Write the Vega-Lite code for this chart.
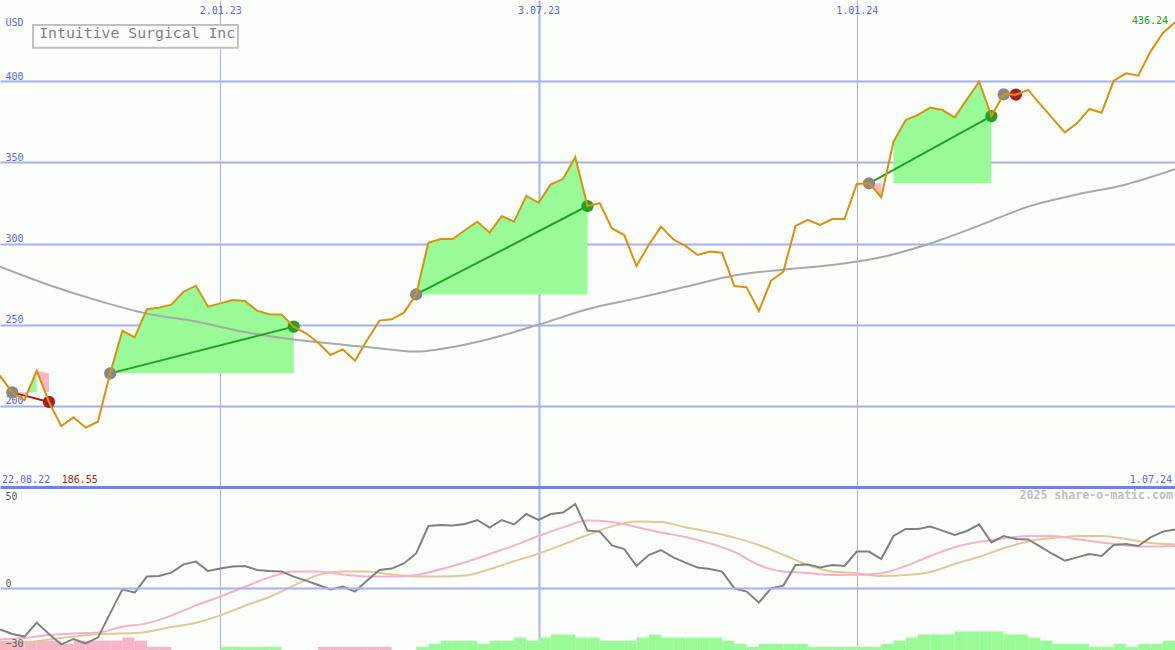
{
  "$schema": "https://vega.github.io/schema/vega-lite/v6.json",
  "background": "#fcfefc",
  "padding": 0,
  "autosize": {"type": "none"},
  "width": 1175,
  "height": 650,
  "config": {
    "view": {"stroke": null},
    "axis": {"labelFont": "DejaVu Sans Mono", "titleFont": "DejaVu Sans Mono"},
    "text": {"font": "DejaVu Sans Mono"}
  },
  "datasets": {
    "w": [
      {"d":"2022-08-22","p":226},{"d":"2022-08-29","p":218.4},{"d":"2022-09-05","p":208.3},{"d":"2022-09-12","p":203.6},{"d":"2022-09-19","p":221.6},{"d":"2022-09-26","p":202.4},{"d":"2022-10-03","p":187.6},{"d":"2022-10-10","p":192.9},{"d":"2022-10-17","p":186.55},{"d":"2022-10-24","p":190.2},{"d":"2022-10-31","p":220.0},{"d":"2022-11-07","p":246.3},{"d":"2022-11-14","p":242.2},{"d":"2022-11-21","p":259.5},{"d":"2022-11-28","p":260.5},{"d":"2022-12-05","p":262.3},{"d":"2022-12-12","p":270.3},{"d":"2022-12-19","p":274.0},{"d":"2022-12-26","p":261.1},{"d":"2023-01-02","p":263.1},{"d":"2023-01-09","p":265.2},{"d":"2023-01-16","p":264.6},{"d":"2023-01-23","p":258.6},{"d":"2023-01-30","p":256.4},{"d":"2023-02-06","p":256.2},{"d":"2023-02-13","p":248.8},{"d":"2023-02-20","p":244.7},{"d":"2023-02-27","p":238.9},{"d":"2023-03-06","p":231.3},{"d":"2023-03-13","p":234.8},{"d":"2023-03-20","p":227.8},{"d":"2023-03-27","p":240.6},{"d":"2023-04-03","p":252.5},{"d":"2023-04-10","p":253.3},{"d":"2023-04-17","p":257.4},{"d":"2023-04-24","p":268.6},{"d":"2023-05-01","p":300.5},{"d":"2023-05-08","p":302.8},{"d":"2023-05-15","p":302.8},{"d":"2023-05-22","p":308.3},{"d":"2023-05-29","p":313.4},{"d":"2023-06-05","p":306.7},{"d":"2023-06-12","p":316.9},{"d":"2023-06-19","p":313.4},{"d":"2023-06-26","p":329.3},{"d":"2023-07-03","p":325.1},{"d":"2023-07-10","p":336.4},{"d":"2023-07-17","p":339.7},{"d":"2023-07-24","p":353.1},{"d":"2023-07-31","p":323.1},{"d":"2023-08-07","p":324.8},{"d":"2023-08-14","p":309.3},{"d":"2023-08-21","p":305.2},{"d":"2023-08-28","p":286.1},{"d":"2023-09-04","p":299.1},{"d":"2023-09-11","p":310.4},{"d":"2023-09-18","p":302.6},{"d":"2023-09-25","p":298.5},{"d":"2023-10-02","p":292.9},{"d":"2023-10-09","p":295.0},{"d":"2023-10-16","p":294.3},{"d":"2023-10-23","p":273.8},{"d":"2023-10-30","p":273.0},{"d":"2023-11-06","p":258.4},{"d":"2023-11-13","p":277.1},{"d":"2023-11-20","p":282.6},{"d":"2023-11-27","p":310.8},{"d":"2023-12-04","p":314.5},{"d":"2023-12-11","p":311.4},{"d":"2023-12-18","p":315.1},{"d":"2023-12-25","p":315.1},{"d":"2024-01-01","p":336.7},{"d":"2024-01-08","p":337.1},{"d":"2024-01-15","p":328.5},{"d":"2024-01-22","p":362.7},{"d":"2024-01-29","p":376.1},{"d":"2024-02-05","p":379.2},{"d":"2024-02-12","p":383.7},{"d":"2024-02-19","p":382.2},{"d":"2024-02-26","p":377.7},{"d":"2024-03-04","p":388.8},{"d":"2024-03-11","p":399.7},{"d":"2024-03-18","p":378.5},{"d":"2024-03-25","p":391.9},{"d":"2024-04-01","p":391.7},{"d":"2024-04-08","p":394.6},{"d":"2024-04-15","p":385.7},{"d":"2024-04-22","p":377.1},{"d":"2024-04-29","p":368.5},{"d":"2024-05-06","p":374.0},{"d":"2024-05-13","p":382.9},{"d":"2024-05-20","p":380.6},{"d":"2024-05-27","p":400.3},{"d":"2024-06-03","p":404.8},{"d":"2024-06-10","p":403.4},{"d":"2024-06-17","p":418.2},{"d":"2024-06-24","p":429.5},{"d":"2024-07-01","p":436.24}
    ],
    "ma": [
      {"d":"2022-08-29","p":285.7},{"d":"2022-09-26","p":274.4},{"d":"2022-10-24","p":264.8},{"d":"2022-11-21","p":256.8},{"d":"2022-12-19","p":252.0},{"d":"2023-01-16","p":245.5},{"d":"2023-02-13","p":240.8},{"d":"2023-03-13","p":237.7},{"d":"2023-04-10","p":234.6},{"d":"2023-04-24","p":233.4},{"d":"2023-05-08","p":235.0},{"d":"2023-06-05","p":241.2},{"d":"2023-07-03","p":250.0},{"d":"2023-07-31","p":259.5},{"d":"2023-08-28","p":266.2},{"d":"2023-09-25","p":273.3},{"d":"2023-10-23","p":280.3},{"d":"2023-11-20","p":283.9},{"d":"2023-12-18","p":286.8},{"d":"2024-01-15","p":291.5},{"d":"2024-02-12","p":300.0},{"d":"2024-03-11","p":311.0},{"d":"2024-04-08","p":322.7},{"d":"2024-05-06","p":330.2},{"d":"2024-06-03","p":336.4},{"d":"2024-07-01","p":345.7}
    ],
    "fills": [
      {"seg":"t1a","k":"g","d":"2022-09-13T20:00:00Z","p":208.3,"p2":208.3},{"seg":"t1a","k":"g","d":"2022-09-19","p":221.6,"p2":208.3},
      {"seg":"t1b","k":"r","d":"2022-09-19","p":221.6,"p2":221.6},{"seg":"t1b","k":"r","d":"2022-09-23T20:00:00Z","p":220.6,"p2":208.3},{"seg":"t1b","k":"r","d":"2022-09-26","p":220.0,"p2":208.3},
      {"seg":"t1c","k":"r","d":"2022-09-05","p":208.3,"p2":207.3},{"seg":"t1c","k":"r","d":"2022-09-13T20:00:00Z","p":208.3,"p2":207.3},
      {"seg":"t2","k":"g","d":"2022-10-31","p":220.0,"p2":220.0},{"seg":"t2","k":"g","d":"2022-11-07","p":246.3,"p2":220.0},{"seg":"t2","k":"g","d":"2022-11-14","p":242.2,"p2":220.0},{"seg":"t2","k":"g","d":"2022-11-21","p":259.5,"p2":220.0},{"seg":"t2","k":"g","d":"2022-11-28","p":260.5,"p2":220.0},{"seg":"t2","k":"g","d":"2022-12-05","p":262.3,"p2":220.0},{"seg":"t2","k":"g","d":"2022-12-12","p":270.3,"p2":220.0},{"seg":"t2","k":"g","d":"2022-12-19","p":274.0,"p2":220.0},{"seg":"t2","k":"g","d":"2022-12-26","p":261.1,"p2":220.0},{"seg":"t2","k":"g","d":"2023-01-02","p":263.1,"p2":220.0},{"seg":"t2","k":"g","d":"2023-01-09","p":265.2,"p2":220.0},{"seg":"t2","k":"g","d":"2023-01-16","p":264.6,"p2":220.0},{"seg":"t2","k":"g","d":"2023-01-23","p":258.6,"p2":220.0},{"seg":"t2","k":"g","d":"2023-01-30","p":256.4,"p2":220.0},{"seg":"t2","k":"g","d":"2023-02-06","p":256.2,"p2":220.0},{"seg":"t2","k":"g","d":"2023-02-13","p":248.8,"p2":220.0},
      {"seg":"t3","k":"g","d":"2023-04-24","p":268.6,"p2":268.6},{"seg":"t3","k":"g","d":"2023-05-01","p":300.5,"p2":268.6},{"seg":"t3","k":"g","d":"2023-05-08","p":302.8,"p2":268.6},{"seg":"t3","k":"g","d":"2023-05-15","p":302.8,"p2":268.6},{"seg":"t3","k":"g","d":"2023-05-22","p":308.3,"p2":268.6},{"seg":"t3","k":"g","d":"2023-05-29","p":313.4,"p2":268.6},{"seg":"t3","k":"g","d":"2023-06-05","p":306.7,"p2":268.6},{"seg":"t3","k":"g","d":"2023-06-12","p":316.9,"p2":268.6},{"seg":"t3","k":"g","d":"2023-06-19","p":313.4,"p2":268.6},{"seg":"t3","k":"g","d":"2023-06-26","p":329.3,"p2":268.6},{"seg":"t3","k":"g","d":"2023-07-03","p":325.1,"p2":268.6},{"seg":"t3","k":"g","d":"2023-07-10","p":336.4,"p2":268.6},{"seg":"t3","k":"g","d":"2023-07-17","p":339.7,"p2":268.6},{"seg":"t3","k":"g","d":"2023-07-24","p":353.1,"p2":268.6},{"seg":"t3","k":"g","d":"2023-07-31","p":323.1,"p2":268.6},
      {"seg":"t4a","k":"r","d":"2024-01-08","p":337.1,"p2":337.1},{"seg":"t4a","k":"r","d":"2024-01-15","p":337.1,"p2":328.5},
      {"seg":"t4b","k":"g","d":"2024-01-22","p":362.7,"p2":337.1},{"seg":"t4b","k":"g","d":"2024-01-29","p":376.1,"p2":337.1},{"seg":"t4b","k":"g","d":"2024-02-05","p":379.2,"p2":337.1},{"seg":"t4b","k":"g","d":"2024-02-12","p":383.7,"p2":337.1},{"seg":"t4b","k":"g","d":"2024-02-19","p":382.2,"p2":337.1},{"seg":"t4b","k":"g","d":"2024-02-26","p":377.7,"p2":337.1},{"seg":"t4b","k":"g","d":"2024-03-04","p":388.8,"p2":337.1},{"seg":"t4b","k":"g","d":"2024-03-11","p":399.7,"p2":337.1},{"seg":"t4b","k":"g","d":"2024-03-18","p":378.5,"p2":337.1}
    ],
    "trades": [
      {"t":"t1","r":"loss","d":"2022-09-05","p":208.3},{"t":"t1","r":"loss","d":"2022-09-26","p":202.4},
      {"t":"t2","r":"win","d":"2022-10-31","p":220.0},{"t":"t2","r":"win","d":"2023-02-13","p":248.8},
      {"t":"t3","r":"win","d":"2023-04-24","p":268.6},{"t":"t3","r":"win","d":"2023-07-31","p":323.1},
      {"t":"t4","r":"win","d":"2024-01-08","p":337.1},{"t":"t4","r":"win","d":"2024-03-18","p":378.5},
      {"t":"t5","r":"loss","d":"2024-03-25","p":391.9},{"t":"t5","r":"loss","d":"2024-04-01","p":391.7}
    ],
    "dots": [
      {"k":"buy","d":"2022-09-05","p":208.3},{"k":"loss","d":"2022-09-26","p":202.4},
      {"k":"buy","d":"2022-10-31","p":220.0},{"k":"win","d":"2023-02-13","p":248.8},
      {"k":"buy","d":"2023-04-24","p":268.6},{"k":"win","d":"2023-07-31","p":323.1},
      {"k":"buy","d":"2024-01-08","p":337.1},{"k":"win","d":"2024-03-18","p":378.5},
      {"k":"buy","d":"2024-03-25","p":391.9},{"k":"loss","d":"2024-04-01","p":391.7}
    ],
    "notes": [
      {"id":"name","txt":"Intuitive Surgical Inc","d":"2022-11-15T11:00:00Z","p":426.4},
      {"id":"start","txt":"22.08.22","d":"2022-08-29","p":152.7},
      {"id":"low","txt":"186.55","d":"2022-10-03T07:00:00Z","p":152.7},
      {"id":"end","txt":"1.07.24","d":"2024-07-01","p":152.7},
      {"id":"last","txt":"436.24","d":"2024-07-01","p":435.0}
    ],
    "box": [
      {"d":"2022-09-16T21:00:00Z","d2":"2023-01-12T02:00:00Z","p":434.6,"p2":420.6}
    ],
    "osc": [
      {"d":"2022-08-29","d2":"2022-09-05","v":-20.7,"h":3,"s":"neg"},{"d":"2022-09-05","d2":"2022-09-12","v":-23.0,"h":3,"s":"neg"},{"d":"2022-09-12","d2":"2022-09-19","v":-24.3,"h":3,"s":"neg"},{"d":"2022-09-19","d2":"2022-09-26","v":-17.3,"h":3,"s":"neg"},{"d":"2022-09-26","d2":"2022-10-03","v":-23.0,"h":3,"s":"neg"},{"d":"2022-10-03","d2":"2022-10-10","v":-28.2,"h":2,"s":"neg"},{"d":"2022-10-10","d2":"2022-10-17","v":-25.5,"h":3,"s":"neg"},{"d":"2022-10-17","d2":"2022-10-24","v":-27.7,"h":3,"s":"neg"},{"d":"2022-10-24","d2":"2022-10-31","v":-24.8,"h":3,"s":"neg"},{"d":"2022-10-31","d2":"2022-11-07","v":-12.7,"h":3,"s":"neg"},{"d":"2022-11-07","d2":"2022-11-14","v":-0.7,"h":4,"s":"neg"},{"d":"2022-11-14","d2":"2022-11-21","v":-2.3,"h":3,"s":"neg"},{"d":"2022-11-21","d2":"2022-11-28","v":5.7,"h":1,"s":"neg"},{"d":"2022-11-28","d2":"2022-12-05","v":6.0,"h":1,"s":"neg"},{"d":"2022-12-05","d2":"2022-12-12","v":7.7,"h":0,"s":""},{"d":"2022-12-12","d2":"2022-12-19","v":11.8,"h":0,"s":""},{"d":"2022-12-19","d2":"2022-12-26","v":13.2,"h":0,"s":""},{"d":"2022-12-26","d2":"2023-01-02","v":8.5,"h":0,"s":""},
      {"d":"2023-01-02","d2":"2023-01-09","v":9.8,"h":1,"s":"pos"},{"d":"2023-01-09","d2":"2023-01-16","v":10.7,"h":1,"s":"pos"},{"d":"2023-01-16","d2":"2023-01-23","v":11.0,"h":1,"s":"pos"},{"d":"2023-01-23","d2":"2023-01-30","v":9.0,"h":1,"s":"pos"},{"d":"2023-01-30","d2":"2023-02-06","v":8.5,"h":1,"s":"pos"},{"d":"2023-02-06","d2":"2023-02-13","v":8.2,"h":0,"s":""},{"d":"2023-02-13","d2":"2023-02-20","v":5.7,"h":0,"s":""},{"d":"2023-02-20","d2":"2023-02-27","v":3.7,"h":0,"s":""},{"d":"2023-02-27","d2":"2023-03-06","v":1.5,"h":1,"s":"neg"},{"d":"2023-03-06","d2":"2023-03-13","v":-0.7,"h":1,"s":"neg"},{"d":"2023-03-13","d2":"2023-03-20","v":0.7,"h":1,"s":"neg"},{"d":"2023-03-20","d2":"2023-03-27","v":-1.8,"h":1,"s":"neg"},{"d":"2023-03-27","d2":"2023-04-03","v":3.7,"h":1,"s":"neg"},{"d":"2023-04-03","d2":"2023-04-10","v":9.0,"h":1,"s":"neg"},{"d":"2023-04-10","d2":"2023-04-17","v":9.7,"h":0,"s":""},{"d":"2023-04-17","d2":"2023-04-24","v":12.3,"h":0,"s":""},
      {"d":"2023-04-24","d2":"2023-05-01","v":17.3,"h":1,"s":"pos"},{"d":"2023-05-01","d2":"2023-05-08","v":31.0,"h":2,"s":"pos"},{"d":"2023-05-08","d2":"2023-05-15","v":31.5,"h":3,"s":"pos"},{"d":"2023-05-15","d2":"2023-05-22","v":31.2,"h":3,"s":"pos"},{"d":"2023-05-22","d2":"2023-05-29","v":32.0,"h":3,"s":"pos"},{"d":"2023-05-29","d2":"2023-06-05","v":34.0,"h":2,"s":"pos"},{"d":"2023-06-05","d2":"2023-06-12","v":30.2,"h":3,"s":"pos"},{"d":"2023-06-12","d2":"2023-06-19","v":34.0,"h":3,"s":"pos"},{"d":"2023-06-19","d2":"2023-06-26","v":31.8,"h":4,"s":"pos"},{"d":"2023-06-26","d2":"2023-07-03","v":37.0,"h":3,"s":"pos"},{"d":"2023-07-03","d2":"2023-07-10","v":34.0,"h":4,"s":"pos"},{"d":"2023-07-10","d2":"2023-07-17","v":37.0,"h":5,"s":"pos"},{"d":"2023-07-17","d2":"2023-07-24","v":37.7,"h":5,"s":"pos"},{"d":"2023-07-24","d2":"2023-07-31","v":42.0,"h":4,"s":"pos"},{"d":"2023-07-31","d2":"2023-08-07","v":28.7,"h":4,"s":"pos"},{"d":"2023-08-07","d2":"2023-08-14","v":28.2,"h":3,"s":"pos"},{"d":"2023-08-14","d2":"2023-08-21","v":21.3,"h":3,"s":"pos"},{"d":"2023-08-21","d2":"2023-08-28","v":19.5,"h":3,"s":"pos"},{"d":"2023-08-28","d2":"2023-09-04","v":11.0,"h":4,"s":"pos"},{"d":"2023-09-04","d2":"2023-09-11","v":16.5,"h":5,"s":"pos"},{"d":"2023-09-11","d2":"2023-09-18","v":19.0,"h":4,"s":"pos"},{"d":"2023-09-18","d2":"2023-09-25","v":15.3,"h":4,"s":"pos"},{"d":"2023-09-25","d2":"2023-10-02","v":12.7,"h":4,"s":"pos"},{"d":"2023-10-02","d2":"2023-10-09","v":10.2,"h":4,"s":"pos"},{"d":"2023-10-09","d2":"2023-10-16","v":9.5,"h":4,"s":"pos"},{"d":"2023-10-16","d2":"2023-10-23","v":8.2,"h":3,"s":"pos"},{"d":"2023-10-23","d2":"2023-10-30","v":-0.2,"h":2,"s":"pos"},{"d":"2023-10-30","d2":"2023-11-06","v":-1.8,"h":1,"s":"pos"},{"d":"2023-11-06","d2":"2023-11-13","v":-7.3,"h":2,"s":"pos"},{"d":"2023-11-13","d2":"2023-11-20","v":-0.2,"h":2,"s":"pos"},{"d":"2023-11-20","d2":"2023-11-27","v":1.2,"h":2,"s":"pos"},{"d":"2023-11-27","d2":"2023-12-04","v":11.5,"h":2,"s":"pos"},{"d":"2023-12-04","d2":"2023-12-11","v":11.8,"h":1,"s":"pos"},{"d":"2023-12-11","d2":"2023-12-18","v":10.3,"h":1,"s":"pos"},{"d":"2023-12-18","d2":"2023-12-25","v":11.5,"h":1,"s":"pos"},{"d":"2023-12-25","d2":"2024-01-01","v":11.0,"h":1,"s":"pos"},
      {"d":"2024-01-01","d2":"2024-01-08","v":18.2,"h":1,"s":"pos"},{"d":"2024-01-08","d2":"2024-01-15","v":18.2,"h":1,"s":"pos"},{"d":"2024-01-15","d2":"2024-01-22","v":14.5,"h":2,"s":"pos"},{"d":"2024-01-22","d2":"2024-01-29","v":26.0,"h":3,"s":"pos"},{"d":"2024-01-29","d2":"2024-02-05","v":29.5,"h":4,"s":"pos"},{"d":"2024-02-05","d2":"2024-02-12","v":29.5,"h":5,"s":"pos"},{"d":"2024-02-12","d2":"2024-02-19","v":30.7,"h":5,"s":"pos"},{"d":"2024-02-19","d2":"2024-02-26","v":28.7,"h":5,"s":"pos"},{"d":"2024-02-26","d2":"2024-03-04","v":26.5,"h":6,"s":"pos"},{"d":"2024-03-04","d2":"2024-03-11","v":28.5,"h":6,"s":"pos"},{"d":"2024-03-11","d2":"2024-03-18","v":31.8,"h":6,"s":"pos"},{"d":"2024-03-18","d2":"2024-03-25","v":22.8,"h":6,"s":"pos"},{"d":"2024-03-25","d2":"2024-04-01","v":26.0,"h":5,"s":"pos"},{"d":"2024-04-01","d2":"2024-04-08","v":24.5,"h":5,"s":"pos"},{"d":"2024-04-08","d2":"2024-04-15","v":24.3,"h":4,"s":"pos"},{"d":"2024-04-15","d2":"2024-04-22","v":20.7,"h":3,"s":"pos"},{"d":"2024-04-22","d2":"2024-04-29","v":17.0,"h":2,"s":"pos"},{"d":"2024-04-29","d2":"2024-05-06","v":13.7,"h":2,"s":"pos"},{"d":"2024-05-06","d2":"2024-05-13","v":15.3,"h":2,"s":"pos"},{"d":"2024-05-13","d2":"2024-05-20","v":17.0,"h":1,"s":"pos"},{"d":"2024-05-20","d2":"2024-05-27","v":16.0,"h":1,"s":"pos"},{"d":"2024-05-27","d2":"2024-06-03","v":21.5,"h":2,"s":"pos"},{"d":"2024-06-03","d2":"2024-06-10","v":22.0,"h":1,"s":"pos"},{"d":"2024-06-10","d2":"2024-06-17","v":21.0,"h":2,"s":"pos"},{"d":"2024-06-17","d2":"2024-06-24","v":25.3,"h":2,"s":"pos"},{"d":"2024-06-24","d2":"2024-07-01","v":28.2,"h":3,"s":"pos"},{"d":"2024-07-01","d2":"2024-07-08","v":29.3,"h":0,"s":""}
    ],
    "fast": [
      {"d":"2022-08-29","v":-25.7},{"d":"2022-09-12","v":-25.0},{"d":"2022-09-26","v":-23.5},{"d":"2022-10-10","v":-22.7},{"d":"2022-10-24","v":-22.3},{"d":"2022-11-07","v":-19.4},{"d":"2022-11-21","v":-17.7},{"d":"2022-12-05","v":-13.8},{"d":"2022-12-19","v":-8.7},{"d":"2023-01-02","v":-4.3},{"d":"2023-01-16","v":0.6},{"d":"2023-01-30","v":5.3},{"d":"2023-02-13","v":8.3},{"d":"2023-02-27","v":8.2},{"d":"2023-03-13","v":6.8},{"d":"2023-03-27","v":5.7},{"d":"2023-04-10","v":5.7},{"d":"2023-04-24","v":6.5},{"d":"2023-05-08","v":9.4},{"d":"2023-05-22","v":12.9},{"d":"2023-06-05","v":17.0},{"d":"2023-06-19","v":21.2},{"d":"2023-07-03","v":26.0},{"d":"2023-07-17","v":30.3},{"d":"2023-07-31","v":33.7},{"d":"2023-08-14","v":33.0},{"d":"2023-08-28","v":30.5},{"d":"2023-09-11","v":27.8},{"d":"2023-09-25","v":25.5},{"d":"2023-10-09","v":22.3},{"d":"2023-10-23","v":18.0},{"d":"2023-11-06","v":11.5},{"d":"2023-11-20","v":8.2},{"d":"2023-12-04","v":7.5},{"d":"2023-12-18","v":6.5},{"d":"2024-01-01","v":6.6},{"d":"2024-01-15","v":7.4},{"d":"2024-01-29","v":11.0},{"d":"2024-02-12","v":16.0},{"d":"2024-02-26","v":20.4},{"d":"2024-03-11","v":23.1},{"d":"2024-03-25","v":24.8},{"d":"2024-04-08","v":26.0},{"d":"2024-04-22","v":26.0},{"d":"2024-05-06","v":24.4},{"d":"2024-05-20","v":22.8},{"d":"2024-06-03","v":21.3},{"d":"2024-06-17","v":20.7},{"d":"2024-07-01","v":21.0}
    ],
    "slow": [
      {"d":"2022-08-29","v":-28.0},{"d":"2022-09-12","v":-27.5},{"d":"2022-09-26","v":-25.8},{"d":"2022-10-10","v":-24.3},{"d":"2022-10-24","v":-23.0},{"d":"2022-11-07","v":-22.8},{"d":"2022-11-21","v":-22.0},{"d":"2022-12-05","v":-19.5},{"d":"2022-12-19","v":-17.4},{"d":"2023-01-02","v":-13.7},{"d":"2023-01-16","v":-8.9},{"d":"2023-01-30","v":-4.5},{"d":"2023-02-13","v":1.2},{"d":"2023-02-27","v":6.5},{"d":"2023-03-13","v":8.2},{"d":"2023-03-27","v":8.2},{"d":"2023-04-10","v":6.8},{"d":"2023-04-24","v":5.7},{"d":"2023-05-08","v":5.7},{"d":"2023-05-22","v":6.2},{"d":"2023-06-05","v":9.4},{"d":"2023-06-19","v":13.4},{"d":"2023-07-03","v":17.2},{"d":"2023-07-17","v":21.7},{"d":"2023-07-31","v":26.5},{"d":"2023-08-14","v":30.8},{"d":"2023-08-28","v":33.3},{"d":"2023-09-11","v":33.0},{"d":"2023-09-25","v":30.4},{"d":"2023-10-09","v":28.0},{"d":"2023-10-23","v":25.2},{"d":"2023-11-06","v":21.5},{"d":"2023-11-20","v":16.6},{"d":"2023-12-04","v":11.5},{"d":"2023-12-18","v":8.2},{"d":"2024-01-01","v":7.4},{"d":"2024-01-15","v":6.0},{"d":"2024-01-29","v":6.5},{"d":"2024-02-12","v":8.0},{"d":"2024-02-26","v":12.0},{"d":"2024-03-11","v":15.6},{"d":"2024-03-25","v":19.9},{"d":"2024-04-08","v":23.3},{"d":"2024-04-22","v":25.0},{"d":"2024-05-06","v":26.0},{"d":"2024-05-20","v":26.0},{"d":"2024-06-03","v":24.5},{"d":"2024-06-17","v":22.5},{"d":"2024-07-01","v":21.8}
    ],
    "credit": [
      {"txt":"2025 share-o-matic.com","d":"2024-07-01","v":44.5}
    ]
  },
  "encoding": {
    "x": {
      "field": "d", "type": "temporal",
      "scale": {"type": "utc", "nice": false, "domain": [{"year": 2022, "month": 8, "date": 29, "utc": true}, {"year": 2024, "month": 7, "date": 1, "utc": true}]},
      "axis": {
        "orient": "top",
        "values": [{"year": 2023, "month": 1, "date": 2, "utc": true}, {"year": 2023, "month": 7, "date": 3, "utc": true}, {"year": 2024, "month": 1, "date": 1, "utc": true}],
        "format": "%-d.%m.%y",
        "grid": true, "gridColor": "#a8b0f0",
        "gridWidth": {"condition": {"test": "utcmonth(datum.value) == 6", "value": 2}, "value": 1},
        "domain": false, "ticks": false,
        "labelPadding": -5, "labelBaseline": "top", "labelColor": "#5868f0", "labelFontSize": 10, "labelFlush": false,
        "title": null
      }
    }
  },
  "resolve": {"scale": {"y": "independent"}, "axis": {"y": "independent"}},
  "layer": [
    {
      "encoding": {
        "y": {
          "field": "p", "type": "quantitative",
          "scale": {"domain": [49.59, 450], "nice": false, "zero": false},
          "axis": {
            "orient": "left",
            "values": [200, 250, 300, 350, 400],
            "grid": true, "gridColor": "#a4b0f0", "gridWidth": 2,
            "domain": false, "ticks": false,
            "labelAlign": "left", "labelBaseline": "bottom", "labelPadding": -5, "labelColor": "#5868f0", "labelFontSize": 10, "labelFlush": false,
            "title": "USD", "titleAngle": 0, "titleX": 5, "titleY": 25, "titleAlign": "left", "titleBaseline": "alphabetic",
            "titleColor": "#5868f0", "titleFontSize": 10, "titleFontWeight": "normal"
          }
        }
      },
      "layer": [
        {"data": {"name": "fills"}, "transform": [{"filter": "datum.k == 'g'"}], "mark": {"type": "area", "color": "#98fb98", "opacity": 1}, "encoding": {"y2": {"field": "p2"}, "detail": {"field": "seg"}}},
        {"data": {"name": "fills"}, "transform": [{"filter": "datum.k == 'r'"}], "mark": {"type": "area", "color": "#ffb6c1", "opacity": 1}, "encoding": {"y2": {"field": "p2"}, "detail": {"field": "seg"}}},
        {"data": {"name": "ma"}, "mark": {"type": "line", "color": "#a8a8a8", "strokeWidth": 2, "interpolate": "monotone", "clip": true}, "encoding": {}},
        {"data": {"name": "trades"}, "transform": [{"filter": "datum.r == 'win'"}], "mark": {"type": "line", "color": "#22a022", "strokeWidth": 2}, "encoding": {"detail": {"field": "t"}}},
        {"data": {"name": "trades"}, "transform": [{"filter": "datum.r == 'loss'"}], "mark": {"type": "line", "color": "#a82020", "strokeWidth": 2}, "encoding": {"detail": {"field": "t"}}},
        {"data": {"name": "dots"}, "mark": {"type": "circle", "size": 150, "opacity": 1}, "encoding": {"color": {"field": "k", "type": "nominal", "scale": {"domain": ["buy", "win", "loss"], "range": ["#888888", "#22a022", "#a82020"]}, "legend": null}}},
        {"data": {"name": "w"}, "mark": {"type": "line", "color": "#d8920c", "strokeWidth": 2, "clip": true}, "encoding": {}},
        {"data": {"name": "box"}, "mark": {"type": "rect", "fill": "#fcfefc", "stroke": "#c0c0c0", "strokeWidth": 2}, "encoding": {"x2": {"field": "d2"}, "y2": {"field": "p2"}}},
        {"data": {"name": "notes"}, "transform": [{"filter": "datum.id == 'name'"}], "mark": {"type": "text", "align": "center", "baseline": "alphabetic", "fontSize": 14.8, "color": "#808080"}, "encoding": {"text": {"field": "txt"}}},
        {"data": {"name": "notes"}, "transform": [{"filter": "datum.id == 'start'"}], "mark": {"type": "text", "align": "left", "baseline": "alphabetic", "dx": 2, "fontSize": 10, "color": "#5868f0"}, "encoding": {"text": {"field": "txt"}}},
        {"data": {"name": "notes"}, "transform": [{"filter": "datum.id == 'low'"}], "mark": {"type": "text", "align": "left", "baseline": "alphabetic", "fontSize": 10, "color": "#b02020"}, "encoding": {"text": {"field": "txt"}}},
        {"data": {"name": "notes"}, "transform": [{"filter": "datum.id == 'end'"}], "mark": {"type": "text", "align": "right", "baseline": "alphabetic", "dx": -3, "fontSize": 10, "color": "#5868f0"}, "encoding": {"text": {"field": "txt"}}},
        {"data": {"name": "notes"}, "transform": [{"filter": "datum.id == 'last'"}], "mark": {"type": "text", "align": "right", "baseline": "alphabetic", "dx": -7, "fontSize": 10, "color": "#22a022"}, "encoding": {"text": {"field": "txt"}}}
      ]
    },
    {
      "data": {"name": "osc"},
      "encoding": {
        "x2": {"field": "d2"},
        "y": {"field": "h", "type": "quantitative", "scale": {"domain": [0, 209], "nice": false, "zero": true}, "axis": null},
        "y2": {"datum": 0}
      },
      "layer": [
        {"transform": [{"filter": "datum.s == 'neg'"}], "mark": {"type": "rect", "color": "#f8b4c8"}},
        {"transform": [{"filter": "datum.s == 'pos'"}], "mark": {"type": "rect", "color": "#98fb98"}}
      ]
    },
    {
      "encoding": {
        "y": {
          "field": "v", "type": "quantitative",
          "scale": {"domain": [-31, 294], "nice": false, "zero": false},
          "axis": {
            "orient": "left",
            "zindex": 1,
            "values": [50.5, 50, 0, -30],
            "labelExpr": "datum.value == 50.5 ? '' : datum.label",
            "grid": true,
            "gridColor": {"condition": {"test": "datum.value == 50.5", "value": "#7080f0"}, "value": "#a4b0f0"},
            "gridWidth": {"condition": {"test": "datum.value == 50.5", "value": 3}, "value": 2},
            "gridOpacity": {"condition": {"test": "datum.value == 0 || datum.value == 50.5", "value": 1}, "value": 0},
            "domain": false, "ticks": false,
            "labelAlign": "left",
            "labelBaseline": {"condition": {"test": "datum.value == 50", "value": "top"}, "value": "bottom"},
            "labelOffset": {"condition": {"test": "datum.value == 50", "value": 3}, "value": 0},
            "labelPadding": -5, "labelColor": "#606060", "labelFontSize": 10, "labelFlush": false,
            "title": null
          }
        }
      },
      "layer": [
        {"data": {"name": "slow"}, "mark": {"type": "line", "color": "#e0c898", "strokeWidth": 2, "interpolate": "monotone", "clip": true}, "encoding": {}},
        {"data": {"name": "fast"}, "mark": {"type": "line", "color": "#f8b0c8", "strokeWidth": 2, "interpolate": "monotone", "clip": true}, "encoding": {}},
        {"data": {"name": "osc"}, "mark": {"type": "line", "color": "#808080", "strokeWidth": 2, "clip": true}, "encoding": {}},
        {"data": {"name": "credit"}, "mark": {"type": "text", "align": "right", "baseline": "alphabetic", "dx": -2, "fontSize": 11.6, "fontWeight": "bold", "color": "#c0c0c0"}, "encoding": {"text": {"field": "txt"}}}
      ]
    }
  ]
}
